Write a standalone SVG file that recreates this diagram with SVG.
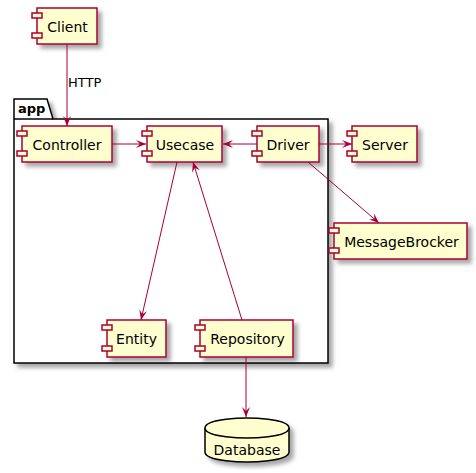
<svg xmlns="http://www.w3.org/2000/svg" width="476" height="473" viewBox="0 0 476 473">
<style>
.box{fill:#FEFECE;stroke:#A80036;stroke-width:1.5}
.db{fill:#FEFECE;stroke:#000000;stroke-width:1.5}
.pkg{fill:#FFFFFF;stroke:#000000;stroke-width:1.5}
.lbl{font-family:"DejaVu Sans","Liberation Sans",sans-serif;font-size:14px;fill:#000000;text-anchor:middle}
.elbl{font-family:"DejaVu Sans","Liberation Sans",sans-serif;font-size:13px;fill:#000000}
.plbl{font-family:"DejaVu Sans","Liberation Sans",sans-serif;font-size:13px;font-weight:bold;fill:#000000}
.edge{stroke:#A80036;stroke-width:1;fill:none;marker-end:url(#arr)}
</style>
<defs>
<filter id="sh" x="-20%" y="-20%" width="150%" height="150%">
<feGaussianBlur in="SourceAlpha" stdDeviation="2"/>
<feOffset dx="4" dy="4" result="b"/>
<feComponentTransfer><feFuncA type="linear" slope="0.35"/></feComponentTransfer>
<feMerge><feMergeNode/><feMergeNode in="SourceGraphic"/></feMerge>
</filter>
<marker id="arr" viewBox="0 0 10 8" refX="10" refY="4" markerWidth="10" markerHeight="8" markerUnits="userSpaceOnUse" orient="auto">
<path d="M0,0 L10,4 L0,8 L4,4 Z" fill="#A80036"/>
</marker>
</defs>
<rect width="476" height="473" fill="#FFFFFF"/>
<g id="app">
<path class="pkg" filter="url(#sh)" d="M14,99 L47,99 L53,119 L328,119 L328,363 L14,363 Z"/>
<line x1="14" y1="119" x2="53" y2="119" stroke="#000000" stroke-width="1.5"/>
<text class="plbl" x="18" y="113">app</text>
</g>
<g id="Client">
<rect class="box" filter="url(#sh)" x="37" y="8" width="60" height="36"/>
<rect class="box" x="32" y="13" width="10" height="5"/>
<rect class="box" x="32" y="33" width="10" height="5"/>
<text class="lbl" x="67.5" y="32">Client</text>
</g>
<g id="Controller">
<rect class="box" filter="url(#sh)" x="22" y="126" width="90" height="36"/>
<rect class="box" x="17" y="131" width="10" height="5"/>
<rect class="box" x="17" y="151" width="10" height="5"/>
<text class="lbl" x="67" y="150">Controller</text>
</g>
<g id="Usecase">
<rect class="box" filter="url(#sh)" x="147" y="126" width="75" height="36"/>
<rect class="box" x="142" y="131" width="10" height="5"/>
<rect class="box" x="142" y="151" width="10" height="5"/>
<text class="lbl" x="185" y="150">Usecase</text>
</g>
<g id="Driver">
<rect class="box" filter="url(#sh)" x="257" y="126" width="62" height="36"/>
<rect class="box" x="252" y="131" width="10" height="5"/>
<rect class="box" x="252" y="151" width="10" height="5"/>
<text class="lbl" x="288" y="150">Driver</text>
</g>
<g id="Server">
<rect class="box" filter="url(#sh)" x="352" y="126" width="65" height="36"/>
<rect class="box" x="347" y="131" width="10" height="5"/>
<rect class="box" x="347" y="151" width="10" height="5"/>
<text class="lbl" x="385" y="150">Server</text>
</g>
<g id="MessageBrocker">
<rect class="box" filter="url(#sh)" x="334" y="223" width="133" height="36"/>
<rect class="box" x="329" y="228" width="10" height="5"/>
<rect class="box" x="329" y="248" width="10" height="5"/>
<text class="lbl" x="401.5" y="247">MessageBrocker</text>
</g>
<g id="Entity">
<rect class="box" filter="url(#sh)" x="107" y="320" width="59" height="37"/>
<rect class="box" x="102" y="325" width="10" height="5"/>
<rect class="box" x="102" y="346" width="10" height="5"/>
<text class="lbl" x="136.5" y="344">Entity</text>
</g>
<g id="Repository">
<rect class="box" filter="url(#sh)" x="200" y="320" width="93" height="37"/>
<rect class="box" x="195" y="325" width="10" height="5"/>
<rect class="box" x="195" y="346" width="10" height="5"/>
<text class="lbl" x="247.5" y="344">Repository</text>
</g>
<g id="Database">
<path class="db" filter="url(#sh)" d="M205,428 C205,418 247,418 247,418 C247,418 289,418 289,428 L289,452 C289,462 247,462 247,462 C247,462 205,462 205,452 Z"/>
<path class="db" fill="none" d="M205,428 C205,438 247,438 247,438 C247,438 289,438 289,428"/>
<text class="lbl" x="247" y="455">Database</text>
</g>
<g id="connectors">
<line class="edge" x1="67" y1="44" x2="67" y2="126"/>
<text class="elbl" x="68" y="87">HTTP</text>
<line class="edge" x1="112" y1="144" x2="146" y2="144"/>
<line class="edge" x1="257" y1="144" x2="223" y2="144"/>
<line class="edge" x1="319" y1="144" x2="352" y2="144"/>
<line class="edge" x1="308" y1="162" x2="379" y2="223"/>
<line class="edge" x1="177" y1="162" x2="141" y2="320"/>
<line class="edge" x1="242" y1="320" x2="193" y2="162"/>
<line class="edge" x1="246" y1="357" x2="246" y2="417"/>
</g>
</svg>
